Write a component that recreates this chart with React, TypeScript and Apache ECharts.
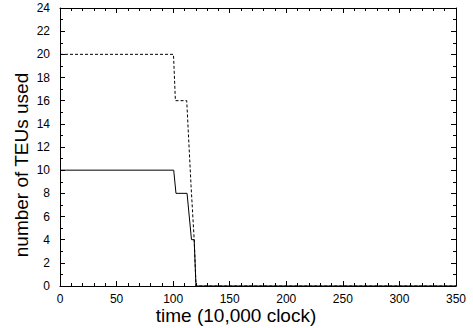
import React, { useEffect, useRef } from "react";
import * as echarts from "echarts";

const xTicks = [0, 50, 100, 150, 200, 250, 300, 350];
const yTicks = [0, 2, 4, 6, 8, 10, 12, 14, 16, 18, 20, 22, 24];

const solidTime = [0, 100.5, 102.5, 112.3, 116.2, 118.6, 120.2, 350];
const solidTeus = [10, 10, 8, 8, 4, 4, 0, 0];

const dashedTime = [0, 100.3, 102, 112, 115.8, 118.6, 120.2, 350];
const dashedTeus = [20, 20, 16, 16, 8.7, 4, 0, 0];

const FONT = "'Liberation Sans', Arial, sans-serif";

export default function App() {
  const ref = useRef<HTMLDivElement>(null);
  useEffect(() => {
    if (!ref.current) return;
    const chart = echarts.init(ref.current, null, { renderer: "svg" });
    const axisLine = { show: true, onZero: false, lineStyle: { color: "#000", width: 1 } };
    const tick = { show: true, inside: true, length: 5, lineStyle: { color: "#000", width: 1 } };
    const minor = { show: true, splitNumber: 5, length: 3, lineStyle: { color: "#000", width: 1 } };
    const minorY = { show: true, splitNumber: 2, length: 3, lineStyle: { color: "#000", width: 1 } };
    chart.setOption({
      animation: false,
      grid: {
        left: 60,
        right: 17,
        top: 8,
        bottom: 42,
        show: false,
        containLabel: false,
        outerBoundsMode: "none",
      },
      xAxis: [
        {
          type: "value",
          min: xTicks[0],
          max: xTicks[xTicks.length - 1],
          interval: 50,
          position: "bottom",
          axisLine,
          axisTick: tick,
          minorTick: minor,
          splitLine: { show: false },
          axisLabel: { color: "#000", fontSize: 12, lineHeight: 12, fontFamily: FONT, margin: 7 },
          name: "time (10,000 clock)",
          nameLocation: "middle",
          nameGap: 20,
          nameMoveOverlap: false,
          nameTextStyle: {
            color: "#000",
            fontSize: 19,
            lineHeight: 19,
            fontFamily: FONT,
            padding: [0, 44, 0, 0],
          },
        },
        {
          type: "value",
          min: xTicks[0],
          max: xTicks[xTicks.length - 1],
          interval: 50,
          position: "top",
          axisLine,
          axisTick: tick,
          minorTick: minor,
          splitLine: { show: false },
          axisLabel: { show: false },
        },
      ],
      yAxis: [
        {
          type: "value",
          min: yTicks[0],
          max: yTicks[yTicks.length - 1],
          interval: 2,
          position: "left",
          axisLine,
          axisTick: tick,
          minorTick: minorY,
          splitLine: { show: false },
          axisLabel: { color: "#000", fontSize: 12, fontFamily: FONT, margin: 10 },
          name: "number of TEUs used",
          nameLocation: "middle",
          nameGap: 29,
          nameMoveOverlap: false,
          nameTextStyle: { color: "#000", fontSize: 19, fontFamily: FONT, padding: [0, 36, 0, 0] },
        },
        {
          type: "value",
          min: yTicks[0],
          max: yTicks[yTicks.length - 1],
          interval: 2,
          position: "right",
          axisLine,
          axisTick: tick,
          minorTick: minorY,
          splitLine: { show: false },
          axisLabel: { show: false },
        },
      ],
      series: [
        {
          type: "line",
          data: dashedTime.map((t, i) => [t, dashedTeus[i]]),
          showSymbol: false,
          lineStyle: { color: "#000", width: 1, type: [3, 2] },
          z: 3,
        },
        {
          type: "line",
          data: solidTime.map((t, i) => [t, solidTeus[i]]),
          showSymbol: false,
          lineStyle: { color: "#000", width: 1 },
          z: 4,
        },
      ],
    });
    return () => chart.dispose();
  }, []);
  return (
    <div
      ref={ref}
      style={{ position: "fixed", left: 0, top: 0, width: 473, height: 328, background: "#fff" }}
    />
  );
}
